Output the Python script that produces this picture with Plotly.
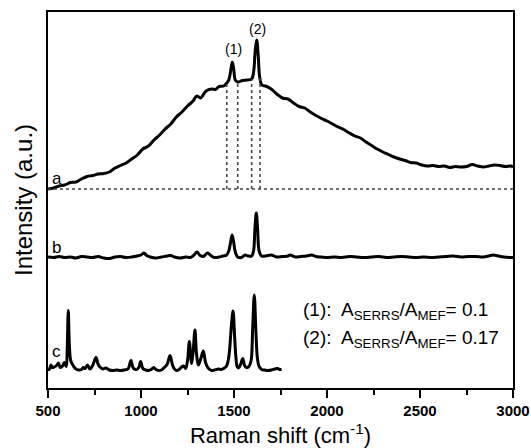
import numpy as np
import plotly.graph_objects as go

# Raman shift (cm^-1) and intensity (a.u.) for each spectrum, relative to its own baseline
wn_a = [500, 530, 560, 590, 620, 650, 680, 710, 740, 770, 800, 830, 860, 890, 920, 950, 980,
        1010, 1040, 1070, 1100, 1130, 1160, 1190, 1220, 1250, 1280, 1300, 1320, 1350, 1380,
        1400, 1420, 1445, 1461, 1472, 1482, 1491, 1499, 1507, 1520, 1545, 1570, 1595, 1606,
        1614, 1622, 1630, 1638, 1650, 1670, 1700, 1730, 1760, 1790, 1820, 1850, 1880, 1910,
        1940, 1970, 2000, 2030, 2060, 2090, 2120, 2150, 2180, 2210, 2240, 2270, 2300, 2330,
        2360, 2390, 2420, 2450, 2480, 2510, 2540, 2570, 2600, 2630, 2660, 2690, 2720, 2750,
        2780, 2810, 2840, 2870, 2900, 2930, 2960, 2990, 3000]
int_a = [0, 1, 3, 4, 6.5, 7, 10, 12.5, 13.5, 15, 15.5, 17, 21, 23.5, 26, 30, 34,
         40, 43, 49, 54, 60, 65, 72, 77, 83, 88, 93, 91, 98, 100,
         99.5, 102.5, 103, 106, 109, 118, 127, 119, 109, 107, 108.5, 109, 110, 118,
         138, 149, 134, 112, 104, 103, 100, 95, 91, 90, 86, 82.5, 81, 77,
         73.5, 70.5, 68, 65, 62, 59.5, 56, 53, 51, 47, 43.5, 40, 37, 34.5,
         32, 30, 28.5, 26.5, 26, 24, 23, 23.5, 22.5, 23, 21.5, 22.5, 22, 22.5,
         24.5, 23, 22, 23, 24, 23.5, 22.5, 23, 21.5]

wn_b = [500, 530, 560, 590, 620, 650, 680, 710, 740, 770, 800, 830, 860, 890, 920, 950, 980,
        1000, 1016, 1030, 1050, 1080, 1110, 1140, 1160, 1180, 1210, 1240, 1265, 1285, 1301,
        1318, 1335, 1358, 1375, 1395, 1420, 1440, 1460, 1472, 1482, 1490, 1498, 1507, 1520,
        1540, 1560, 1575, 1595, 1605, 1613, 1620, 1627, 1635, 1648, 1670, 1700, 1730, 1760,
        1790, 1801, 1830, 1860, 1890, 1919, 1940, 1970, 2000, 2040, 2080, 2120, 2160, 2200,
        2240, 2280, 2320, 2360, 2400, 2440, 2480, 2520, 2560, 2600, 2640, 2680, 2720, 2760,
        2800, 2840, 2870, 2893, 2920, 2950, 2980, 3000]
int_b = [0, -0.5, 0.5, -0.5, 0, -1, 0.5, 0, -0.5, 0.5, -1, -1.5, 0, 0.5, -0.5, 0, 1,
         2, 4, 1.5, 0, -1, 0, 1, 1.5, 0, -1, 0, -0.5, 2, 5,
         1.5, 0.5, 4, 1.5, -0.5, 0, 1, 2, 6, 15, 22, 15, 5, 0,
         -0.5, 2, 1, 1, 6, 30, 44, 28, 6, 1, 1, 2, 0, 0.5,
         1, 2, 0, 0.5, 1, 2, 0.5, 0, -0.5, 0, -0.5, 0.5, 0, -0.5,
         0, 0.5, -0.5, 0, 0.5, 0, -0.5, 0, -0.5, 0, 0.5, 1, 0, 0.5,
         0.5, 0, 1, 2, 1, 0, -0.5, -0.5]

wn_c = [500, 508, 516, 524, 534, 546, 556, 566, 578, 588, 598, 603, 609, 615, 622, 632, 642,
        655, 668, 680, 690, 700, 712, 725, 740, 758, 770, 782, 795, 810, 830, 850, 870, 890,
        910, 930, 946, 958, 975, 988, 998, 1010, 1025, 1040, 1055, 1068, 1080, 1095, 1110,
        1125, 1140, 1156, 1170, 1182, 1192, 1205, 1218, 1228, 1240, 1250, 1260, 1268, 1272,
        1280, 1290, 1298, 1308, 1320, 1335, 1347, 1359, 1370, 1380, 1395, 1416, 1430, 1445,
        1460, 1473, 1486, 1495, 1503, 1510, 1517, 1525, 1537, 1547, 1557, 1568, 1580, 1592,
        1600, 1609, 1618, 1626, 1635, 1649, 1665, 1680, 1702, 1720, 1735, 1745, 1756]
int_c = [0.5, 1.5, 5.5, 3, 3.5, 5, 7.5, 3, 4.5, 8, 4, 20, 60, 25, 10, 6, 3,
         1, 0.5, 1, 3, 2, 5.5, 1.5, 5, 13, 6, 3, 1.5, 2.5, 0.5, 0, 0.5, 0,
         0.5, 1.5, 10, 2.5, 1, 3, 9, 2, 0.5, 0, 1, 3, 1, 0, 0.5,
         3, 6, 15, 5, 1, 0, 1, 3.5, 4.5, 2, 10, 29, 12, 7,
         18, 40.5, 18, 5.5, 11, 19.5, 8, 3, 1, 0, 0.5, 1.5, 1, 2,
         4.5, 15, 45, 59.5, 35, 14, 4, 2.5, 7, 12, 5, 3, 4, 10,
         40, 75.5, 38, 12, 4, 1, 0.5, 0, 0.5, 1.5, 2, 1, 1]

# Integration limits for bands (1) and (2)
band_edges = [1461, 1520, 1595, 1640]

# Vertical stacking of the three spectra
offset_a, offset_b, offset_c = 199, 131, 17.5

font = "Arial, Liberation Sans, sans-serif"
fig = go.Figure()

ya = np.array(int_a) + offset_a
line_style = dict(color="black", width=3)
fig.add_trace(go.Scatter(x=wn_a, y=ya, mode="lines", line=line_style, line_shape="spline"))
fig.add_trace(go.Scatter(x=wn_b, y=np.array(int_b) + offset_b, mode="lines", line=line_style,
                         line_shape="spline"))
fig.add_trace(go.Scatter(x=wn_c, y=np.array(int_c) + offset_c, mode="lines", line=line_style,
                         line_shape="spline"))

# Dotted baseline of spectrum a and band limits
dot = dict(color="#444444", width=1.6, dash="dot")
fig.add_trace(go.Scatter(x=[500, 3000], y=[offset_a, offset_a], mode="lines", line=dot))
for e in band_edges:
    top = np.interp(e, wn_a, ya)
    fig.add_trace(go.Scatter(x=[e, e], y=[offset_a, top], mode="lines", line=dot))

ann = []
for lab, x, y in [("a", 548, 210), ("b", 548, 141), ("c", 548, 37)]:
    ann.append(dict(x=x, y=y, text=lab, showarrow=False, font=dict(family=font, size=17, color="black")))
for lab, x, y in [("(1)", 1496, 339), ("(2)", 1629, 359)]:
    ann.append(dict(x=x, y=y, text=lab, showarrow=False, font=dict(family=font, size=14, color="black")))
for lab, y in [("(1):  A<sub>SERRS</sub>/A<sub>MEF</sub>= 0.1", 77),
               ("(2):  A<sub>SERRS</sub>/A<sub>MEF</sub>= 0.17", 49)]:
    ann.append(dict(x=1860, y=y, text=lab, showarrow=False, xanchor="left",
                    font=dict(family=font, size=19, color="black")))

fig.update_layout(
    width=531, height=448,
    margin=dict(l=48, r=18, t=12, b=60),
    paper_bgcolor="white", plot_bgcolor="white",
    showlegend=False,
    annotations=ann,
    xaxis=dict(range=[500, 3000], tickvals=[500, 1000, 1500, 2000, 2500, 3000],
               automargin=False,
               ticks="outside", ticklen=8, tickwidth=1.5, tickcolor="black",
               minor=dict(tickvals=[750, 1250, 1750, 2250, 2750], ticks="outside", ticklen=5,
                          tickwidth=1.5, tickcolor="black"),
               showline=True, linewidth=1.5, linecolor="black", mirror=True,
               showgrid=False, zeroline=False,
               tickfont=dict(family=font, size=15, color="black", weight="bold"),
               title=dict(text="Raman shift (cm<sup>-1</sup>)", standoff=13,
                          font=dict(family=font, size=22, color="black"))),
    yaxis=dict(range=[0, 376], showticklabels=False, ticks="", automargin=False,
               showline=True, linewidth=1.5, linecolor="black", mirror=True,
               showgrid=False, zeroline=False,
               title=dict(text="Intensity (a.u.)", standoff=7,
                          font=dict(family=font, size=24, color="black"))),
)

fig.write_html("out.html")
